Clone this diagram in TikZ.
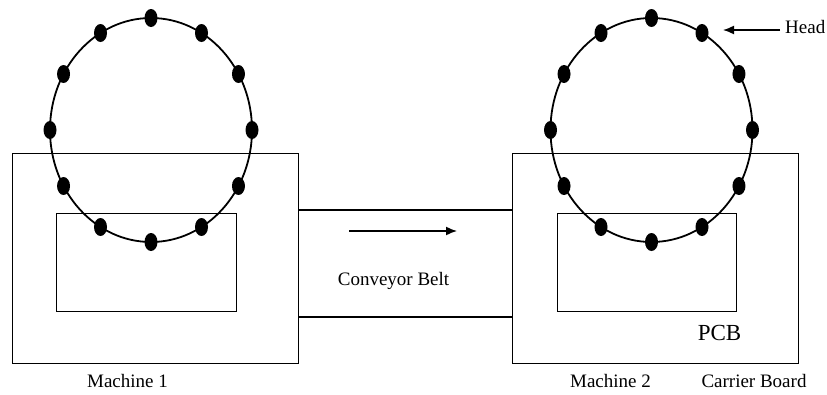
\documentclass[tikz,border=0pt]{standalone}
\usepackage{fontspec}
\setmainfont{Liberation Serif}
\usetikzlibrary{arrows.meta}
\begin{document}
\begin{tikzpicture}[x=1pt,y=-1pt,
  box/.style={draw,line width=1pt,inner sep=0pt,outer sep=0pt},
  belt/.style={line width=1.6pt},
  ring/.style={line width=1.8pt},
  arr/.style={line width=1.5pt,-{Latex[length=11pt,width=9pt]}},
  lbl/.style={inner sep=0pt,anchor=base,font=\fontsize{19}{22}\selectfont},
  big/.style={inner sep=0pt,anchor=base,font=\fontsize{23}{26}\selectfont}]
\useasboundingbox (0,0) rectangle (827,394);
% machines
\node[box,minimum width=286pt,minimum height=210pt] (m1) at (155,258) {};
\node[box,minimum width=286pt,minimum height=210pt] (m2) at (655,258) {};
% carrier boards / PCBs
\node[box,minimum width=180pt,minimum height=98pt] (p1) at (146,262) {};
\node[box,minimum width=179pt,minimum height=98pt] (p2) at (646.5,262) {};
% conveyor belt
\draw[belt] ([yshift=-57pt]m1.north east) -- ([yshift=-57pt]m2.north west);
\draw[belt] ([yshift=-164pt]m1.north east) -- ([yshift=-164pt]m2.north west);
\coordinate (cs) at (349,231);
\coordinate (ce) at (457,231);
\draw[arr] (cs) -- (ce);
% heads
\foreach \cx in {151,651.5}{
  \draw[ring] (\cx,130) ellipse [x radius=101, y radius=112];
  \foreach \a in {0,30,...,330}
    \fill ({\cx+101*cos(\a)},{130-112*sin(\a)}) ellipse [x radius=6.5, y radius=9];
}
% labels
\node[lbl] (l1) at (127.5,387) {Machine 1};
\node[lbl] (l2) at (610.5,387) {Machine 2};
\node[lbl] (cb) at (754,387) {Carrier Board};
\node[big] (pcb) at (719.5,340) {PCB};
\node[lbl] (conv) at (393.5,285) {Conveyor Belt};
\node[lbl,anchor=base west] (head) at (785,33) {Head};
\coordinate (hs) at (780,30);
\coordinate (ht) at (723,30);
\draw[arr] (hs) -- (ht);
\end{tikzpicture}
\end{document}
